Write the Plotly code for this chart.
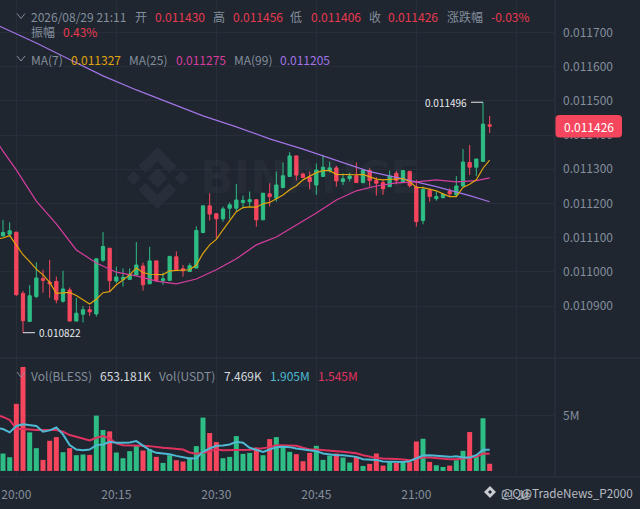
import pandas as pd
import plotly.graph_objects as go
from plotly.subplots import make_subplots

# prices in millionths of USDT, one per minute from 19:58
opens = [11105, 11110, 11116, 10937, 10855, 10928, 10980, 10970, 10972, 10914,
         10947, 10856, 10876, 10889, 10877, 11034, 11069, 10973, 10978, 10978,
         10991, 11017, 10965, 11032, 10974, 10975, 11044, 11009, 11001, 11011,
         11115, 11193, 11170, 11155, 11186, 11186, 11203, 11205, 11211, 11152,
         11228, 11215, 11247, 11279, 11339, 11286, 11276, 11254, 11279, 11296,
         11304, 11264, 11273, 11281, 11261, 11296, 11267, 11261, 11249, 11288,
         11261, 11294, 11249, 11150, 11238, 11214, 11217, 11235, 11225, 11251,
         11320, 11306, 11323, 11430]
closes = [11115, 11120, 10933, 10857, 10930, 10982, 10975, 10965, 10918, 10950,
          10856, 10879, 10889, 10883, 11038, 11074, 10974, 10985, 10984, 10993,
          11020, 10962, 11032, 10974, 10980, 11045, 11006, 11003, 11018, 11121,
          11193, 11169, 11155, 11184, 11196, 11210, 11209, 11211, 11152, 11230,
          11220, 11254, 11281, 11339, 11283, 11276, 11264, 11298, 11306, 11304,
          11266, 11272, 11280, 11261, 11298, 11267, 11259, 11243, 11280, 11267,
          11296, 11252, 11147, 11241, 11220, 11220, 11227, 11228, 11251, 11321,
          11306, 11330, 11432, 11426]
highs = [11152, 11145, 11116, 10944, 10961, 11028, 11006, 11035, 10986, 11003,
         10954, 10924, 10900, 10900, 11040, 11116, 11069, 11015, 11010, 11010,
         11087, 11027, 11073, 11032, 10998, 11047, 11060, 11020, 11025, 11133,
         11193, 11230, 11170, 11191, 11203, 11257, 11223, 11235, 11211, 11230,
         11259, 11293, 11320, 11350, 11339, 11290, 11293, 11317, 11342, 11322,
         11310, 11288, 11290, 11320, 11298, 11303, 11277, 11271, 11296, 11295,
         11298, 11294, 11269, 11249, 11244, 11235, 11230, 11244, 11280, 11359,
         11371, 11330, 11496, 11456]
lows = [11103, 11103, 10930, 10822, 10855, 10923, 10939, 10924, 10908, 10910,
        10856, 10856, 10852, 10871, 10869, 11029, 10942, 10967, 10957, 10976,
        10991, 10945, 10965, 10974, 10962, 10975, 11004, 10986, 11001, 11011,
        11113, 11150, 11098, 11147, 11154, 11176, 11186, 11191, 11132, 11152,
        11191, 11205, 11244, 11279, 11267, 11274, 11241, 11225, 11277, 11290,
        11249, 11254, 11264, 11261, 11259, 11249, 11223, 11225, 11249, 11256,
        11261, 11247, 11132, 11139, 11205, 11208, 11215, 11220, 11220, 11249,
        11283, 11280, 11323, 11406]
# volume in thousands
volumes = [1576, 1242, 6060, 9393, 3485, 2060, 1000, 2727, 3060, 1697,
           2060, 1424, 1485, 1454, 5000, 3697, 3575, 1667, 1151, 1788,
           2272, 1848, 1970, 1273, 727, 1424, 970, 848, 1212, 2242,
           4818, 3424, 2606, 1151, 1273, 3151, 1545, 1636, 2121, 1424,
           2878, 3060, 2090, 1727, 1515, 879, 1636, 2272, 1000, 1394,
           1575, 1212, 757, 1273, 454, 636, 1575, 485, 818, 727,
           788, 788, 2666, 2909, 818, 515, 364, 485, 970, 1818,
           3515, 1303, 4757, 653]

# moving averages start one minute before the first visible candle
ma7 = [11097, 11099, 11106, 11079, 11050, 11030, 11008, 10991, 10969, 10937, 10939,
       10940, 10931, 10918, 10906, 10920, 10939, 10942, 10962, 10976, 10991,
       11011, 10998, 10993, 10992, 10992, 11003, 11004, 11003, 11006, 11020,
       11054, 11079, 11095, 11123, 11150, 11176, 11188, 11190, 11189, 11199,
       11203, 11215, 11225, 11240, 11252, 11269, 11280, 11290, 11296, 11296,
       11285, 11284, 11284, 11284, 11285, 11279, 11271, 11269, 11271, 11273,
       11273, 11264, 11247, 11246, 11241, 11237, 11228, 11220, 11220, 11247,
       11256, 11269, 11303, 11327]
ma25_min = [-1, 0, 2, 5, 8, 11, 14, 17, 20, 23, 26, 29, 32, 35, 38, 41, 44, 47,
            50, 53, 56, 59, 62, 65, 68, 71, 73]
ma25 = [11383, 11353, 11298, 11207, 11140, 11064, 11026, 10999, 10988, 10973,
        10965, 10979, 11006, 11038, 11079, 11102, 11137, 11172, 11210, 11237,
        11251, 11260, 11263, 11269, 11263, 11267, 11275]
ma99_min = [-1, 5, 10, 15, 20, 25, 30, 35, 40, 45, 50, 55, 60, 65, 70, 73]
ma99 = [11723, 11669, 11621, 11573, 11532, 11494, 11456, 11424, 11389, 11359,
        11325, 11293, 11272, 11249, 11223, 11205]
vol_ma5 = [3909, 3788, 3485, 4060, 4212, 4151, 4060, 3545, 3666, 3939, 3303,
           2333, 1939, 1879, 1939, 2333, 2394, 2636, 2545, 2545, 2576,
           2697, 2273, 1879, 1636, 1576, 1515, 1364, 1242, 1121, 1151,
           1727, 2030, 2273, 2303, 2394, 2636, 2545, 2091, 1879, 1727,
           1939, 2151, 2182, 2151, 2030, 1939, 1909, 1788, 1576, 1485,
           1424, 1424, 1364, 1273, 1061, 1000, 1000, 848, 818, 818,
           818, 879, 1121, 1394, 1424, 1364, 1303, 1273, 1333, 1212,
           1212, 1424, 1909, 1905]
vol_ma10 = [5060, 4878, 4606, 3788, 3788, 3727, 3697, 3697, 3727, 3697, 3545,
            3242, 3091, 2939, 2757, 3000, 3151, 2939, 2485, 2333, 2333,
            2333, 2273, 2242, 2151, 2091, 2060, 2030, 1939, 1667, 1545,
            1636, 1818, 1939, 1879, 1879, 1909, 1939, 1909, 1970, 2030,
            2151, 2333, 2333, 2333, 2273, 2091, 1939, 1939, 1909, 1818,
            1788, 1727, 1667, 1606, 1424, 1273, 1182, 1121, 1121, 1091,
            1030, 970, 1091, 1212, 1212, 1151, 1121, 1061, 1061, 1151,
            1212, 1273, 1576, 1545]

price_ticks = [0.0109, 0.0110, 0.0111, 0.0112, 0.0113, 0.0114, 0.0115, 0.0116, 0.0117]

W, H = 640, 509
PLOT_W, PLOT_H = 555, 477
SPLIT = 358

BG = "#1f2630"
GRID = "#272e39"
LINE = "#2e3541"
MUTED = "#848e9c"
GREEN = "#2ebd85"
RED = "#f6465d"
RED_TXT = "#e8394f"
MA7_COLOR = "#e0a40c"
MA25_COLOR = "#d63d9f"
MA99_COLOR = "#a274e6"
FONT = "Noto Sans CJK SC"

start = pd.Timestamp("2026-08-29 19:58")


def t(minute):
    return start + pd.Timedelta(minutes=minute)


def px(x):
    return x / PLOT_W


def py(y):
    return (PLOT_H - y) / PLOT_H


def scaled(values):
    return [v / 1e6 for v in values]


def times(first, n):
    return [t(first + i) for i in range(n)]


fig = make_subplots(rows=2, cols=1, shared_xaxes=True, vertical_spacing=0,
                    row_heights=[SPLIT / PLOT_H, 1 - SPLIT / PLOT_H])

fig.add_trace(go.Candlestick(
    x=times(0, len(opens)),
    open=scaled(opens), high=scaled(highs), low=scaled(lows), close=scaled(closes),
    increasing=dict(line=dict(color=GREEN, width=1), fillcolor=GREEN),
    decreasing=dict(line=dict(color=RED, width=1), fillcolor=RED),
    whiskerwidth=0,
), row=1, col=1)
fig.add_trace(go.Scatter(x=[t(m) for m in ma99_min], y=scaled(ma99), mode="lines",
                         line=dict(color=MA99_COLOR, width=1.2)), row=1, col=1)
fig.add_trace(go.Scatter(x=[t(m) for m in ma25_min], y=scaled(ma25), mode="lines",
                         line=dict(color=MA25_COLOR, width=1.2)), row=1, col=1)
fig.add_trace(go.Scatter(x=times(-1, len(ma7)), y=scaled(ma7), mode="lines",
                         line=dict(color=MA7_COLOR, width=1.2)), row=1, col=1)

bar_colors = [GREEN if c >= o else RED for o, c in zip(opens, closes)]
fig.add_trace(go.Bar(x=times(0, len(volumes)), y=[v * 1000 for v in volumes],
                     marker=dict(color=bar_colors, line_width=0)), row=2, col=1)
fig.add_trace(go.Scatter(x=times(-1, len(vol_ma10)), y=[v * 1000 for v in vol_ma10],
                         mode="lines", line=dict(color="#e0325f", width=2)), row=2, col=1)
fig.add_trace(go.Scatter(x=times(-1, len(vol_ma5)), y=[v * 1000 for v in vol_ma5],
                         mode="lines", line=dict(color="#4db9d2", width=2)), row=2, col=1)

fig.update_layout(
    width=W, height=H, autosize=False, showlegend=False, bargap=0.25, boxgap=0.3,
    paper_bgcolor=BG, plot_bgcolor=BG,
    margin=dict(l=0, r=W - PLOT_W, t=0, b=H - PLOT_H, pad=0),
    font=dict(family=FONT, size=12, color=MUTED),
    hovermode=False,
)
fig.update_xaxes(
    range=[t(-0.45), t(82.8)], type="date", rangeslider_visible=False,
    tick0="2026-08-29 20:00", dtick=900000, tickformat="%H:%M",
    showgrid=True, gridcolor=GRID, gridwidth=1, zeroline=False, showline=False,
    tickfont=dict(size=12, color=MUTED), ticks="", ticklabelstandoff=9,
)
fig.update_xaxes(showticklabels=False, row=1, col=1)
fig.update_xaxes(showticklabels=True, row=2, col=1)
fig.update_yaxes(
    side="right", range=[0.010748, 0.011795], tickmode="array", tickvals=price_ticks,
    tickformat=".6f", showgrid=True, gridcolor=GRID, gridwidth=1, zeroline=False,
    showline=False, tickfont=dict(size=12, color=MUTED), ticklabelstandoff=7,
    row=1, col=1,
)
fig.update_yaxes(
    side="right", range=[-545000, 10200000], tickvals=[5000000], ticktext=["5M"],
    showgrid=True, gridcolor=GRID, gridwidth=1, zeroline=False, showline=False,
    tickfont=dict(size=12, color=MUTED), ticklabelstandoff=7, row=2, col=1,
)


def label(x, y, text, color=MUTED, size=12):
    # annotations pad their text by about 2px, taken off here
    fig.add_annotation(x=px(x - 2), y=py(y), xref="paper", yref="paper", text=text,
                       showarrow=False, xanchor="left", yanchor="middle",
                       font=dict(family=FONT, size=size, color=color))


def seg(x0, y0, x1, y1, color=LINE, width=1, layer="above"):
    fig.add_shape(type="line", xref="paper", yref="paper", layer=layer,
                  x0=px(x0), y0=py(y0), x1=px(x1), y1=py(y1),
                  line=dict(color=color, width=width))


def poly(points, color):
    path = "M" + " L".join(f"{px(x):.5f},{py(y):.5f}" for x, y in points) + " Z"
    fig.add_shape(type="path", xref="paper", yref="paper", layer="below", path=path,
                  fillcolor=color, line_width=0)


# panel frame
seg(555, 0, 555, PLOT_H)
seg(0, SPLIT, W, SPLIT)
seg(0, PLOT_H, W, PLOT_H)

# watermark, the text is translucent because annotations sit above the candles
MARK = "#282f3a"
cx, cy = 157.5, 178
poly([(cx - 10, cy), (cx, cy - 10), (cx + 10, cy), (cx, cy + 10)], MARK)
poly([(cx - 31, cy), (cx - 24, cy - 7), (cx - 17, cy), (cx - 24, cy + 7)], MARK)
poly([(cx + 17, cy), (cx + 24, cy - 7), (cx + 31, cy), (cx + 24, cy + 7)], MARK)
poly([(cx - 19, cy - 12), (cx, cy - 31), (cx + 19, cy - 12), (cx + 12, cy - 5),
      (cx, cy - 17), (cx - 12, cy - 5)], MARK)
poly([(cx - 19, cy + 12), (cx, cy + 31), (cx + 19, cy + 12), (cx + 12, cy + 5),
      (cx, cy + 17), (cx - 12, cy + 5)], MARK)
fig.add_annotation(x=px(198), y=py(178), xref="paper", yref="paper", text="<b>BINANCE</b>",
                   showarrow=False, xanchor="left", yanchor="middle",
                   font=dict(family="DejaVu Sans", size=44, color="rgba(255,255,255,0.04)"))

# header rows
for y in (16, 58.5, 374.5):
    seg(17, y - 2.5, 21, y + 2.5, color=MUTED)
    seg(21, y + 2.5, 25, y - 2.5, color=MUTED)

label(31, 16, "2026/08/29 21:11")
label(135, 16, "开")
label(155, 16, "0.011430", RED_TXT)
label(213, 16, "高")
label(233, 16, "0.011456", RED_TXT)
label(290, 16, "低")
label(311, 16, "0.011406", RED_TXT)
label(369, 16, "收")
label(388, 16, "0.011426", RED_TXT)
label(447, 16, "涨跌幅")
label(491, 16, "-0.03%", RED_TXT)
label(31, 32, "振幅")
label(63, 32, "0.43%", RED_TXT)

label(31, 59, "MA(7)")
label(71, 59, "0.011327", MA7_COLOR)
label(129, 59, "MA(25)")
label(176, 59, "0.011275", MA25_COLOR)
label(234, 59, "MA(99)")
label(280, 59, "0.011205", MA99_COLOR)

label(31, 375, "Vol(BLESS)")
label(100, 375, "653.181K", "#d5d9df")
label(159, 375, "Vol(USDT)")
label(224, 375, "7.469K", "#d5d9df")
label(270, 375, "1.905M", "#4db9d2")
label(318, 375, "1.545M", "#e0325f")

# extreme markers
fig.add_shape(type="line", xref="x", yref="y", xsizemode="pixel", xanchor=t(72),
              x0=-12, x1=0, y0=0.011496, y1=0.011496, line=dict(color="#e6e8ea", width=1))
fig.add_annotation(x=t(72), y=0.011496, xref="x", yref="y", text="0.011496", showarrow=False,
                   xanchor="right", xshift=-14, font=dict(family=FONT, size=10, color="#e6e8ea"))
fig.add_shape(type="line", xref="x", yref="y", xsizemode="pixel", xanchor=t(3),
              x0=0, x1=12, y0=0.010822, y1=0.010822, line=dict(color="#e6e8ea", width=1))
fig.add_annotation(x=t(3), y=0.010822, xref="x", yref="y", text="0.010822", showarrow=False,
                   xanchor="left", xshift=13.5, font=dict(family=FONT, size=10, color="#e6e8ea"))

# last price tag
x0, x1, y0, y1, r = 555.5, 622, 115, 137.5, 4
corner = (f"M{px(x0 + r)},{py(y0)} L{px(x1 - r)},{py(y0)} Q{px(x1)},{py(y0)} {px(x1)},{py(y0 + r)} "
          f"L{px(x1)},{py(y1 - r)} Q{px(x1)},{py(y1)} {px(x1 - r)},{py(y1)} "
          f"L{px(x0 + r)},{py(y1)} Q{px(x0)},{py(y1)} {px(x0)},{py(y1 - r)} "
          f"L{px(x0)},{py(y0 + r)} Q{px(x0)},{py(y0)} {px(x0 + r)},{py(y0)} Z")
fig.add_shape(type="path", xref="paper", yref="paper", layer="above", path=corner,
              fillcolor=RED, line_width=0)
label(564, 126.5, "0.011426", "#ffffff", 12)

# corner source marks
cx, cy = 490, 492
poly([(cx - 6, cy), (cx, cy - 6), (cx + 6, cy), (cx, cy + 6)], "#c9ccd1")
poly([(cx - 2, cy), (cx, cy - 2), (cx + 2, cy), (cx, cy + 2)], BG)
label(501, 492, "@Qu", "#b9bdc4", 12)
label(521, 492, "@TradeNews_P2000", "#b9bdc4", 11.7)

fig.write_html("out.html", post_script="document.body.style.margin='0';",
               config={"displayModeBar": False})
